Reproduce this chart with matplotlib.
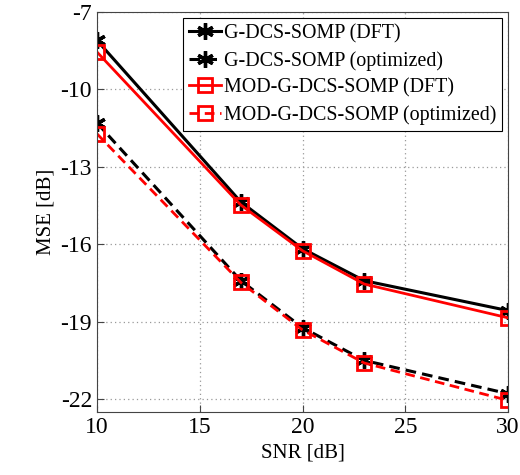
import matplotlib
matplotlib.use('Agg')
import matplotlib.pyplot as plt

snr = [10, 17, 20, 23, 30]
gdcs_dft = [-8.10, -14.36, -16.17, -17.41, -18.57]
gdcs_opt = [-11.30, -17.41, -19.23, -20.50, -21.79]
mod_dft = [-8.55, -14.48, -16.25, -17.54, -18.85]
mod_opt = [-11.72, -17.48, -19.32, -20.60, -22.05]

labels = ['G-DCS-SOMP (DFT)', 'G-DCS-SOMP (optimized)',
          'MOD-G-DCS-SOMP (DFT)', 'MOD-G-DCS-SOMP (optimized)']

plt.rcParams['font.family'] = 'Liberation Serif'
plt.rcParams['axes.unicode_minus'] = False

fig = plt.figure(figsize=(5.2, 4.75), dpi=100)
ax = fig.add_axes([0.1865, 0.1326, 0.7905, 0.8421])

ax.plot(snr, gdcs_dft, 'k-', marker=(6, 2, 0), ms=12, mew=2.4, lw=2.2, label=labels[0])
ax.plot(snr, gdcs_opt, 'k--', marker=(6, 2, 0), ms=12, mew=2.4, lw=2.2,
        dashes=(3.5, 2), label=labels[1])
ax.plot(snr, mod_dft, 'r-', marker='s', ms=10, mew=2, mfc='none', lw=2.0, label=labels[2])
ax.plot(snr, mod_opt, 'r--', marker='s', ms=10, mew=2, mfc='none', lw=2.0,
        dashes=(3.5, 2), label=labels[3])

ax.set_xlim(10, 30)
ax.set_ylim(-22.5, -7)
ax.set_xticks([10, 15, 20, 25, 30])
ax.set_yticks([-7, -10, -13, -16, -19, -22])
ax.tick_params(direction='in', labelsize=17, length=5, color='#444444')
ax.grid(True, linestyle=(0, (1, 2.5)), color='#999999', lw=0.9)
for s in ax.spines.values():
    s.set_color('#444444')

ax.set_xlabel('SNR [dB]', fontsize=15)
ax.set_ylabel('MSE [dB]', fontsize=15)

leg = ax.legend(loc='upper right', fontsize=14.4, handlelength=1.6, handletextpad=0.15,
                borderpad=0.3, labelspacing=0.38, fancybox=False, framealpha=1,
                edgecolor='black', borderaxespad=0.3)
leg.get_frame().set_linewidth(0.8)

fig.savefig('out.png', dpi=100)
